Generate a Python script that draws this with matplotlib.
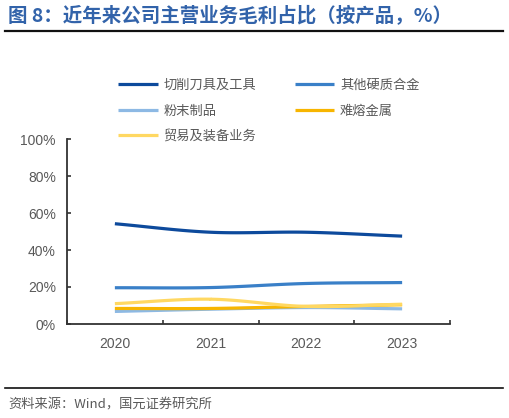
import numpy as np
import matplotlib
matplotlib.use("Agg")
from matplotlib import pyplot as plt
from matplotlib.ticker import PercentFormatter

plt.rcParams["font.family"] = ["Noto Sans CJK SC", "DejaVu Sans"]

years = ["2020", "2021", "2022", "2023"]
cutting_tools = [54.2, 49.6, 49.6, 47.5]
other_alloy = [19.6, 19.7, 21.9, 22.4]
powder = [6.8, 8.0, 8.9, 8.2]
refractory = [8.4, 8.4, 9.5, 10.4]
trade = [11.0, 13.4, 9.5, 10.7]

series = [
    ("切削刀具及工具", cutting_tools, "#0D4A9C"),
    ("其他硬质合金", other_alloy, "#3A80C8"),
    ("粉末制品", powder, "#8DB9E4"),
    ("难熔金属", refractory, "#F7B500"),
    ("贸易及装备业务", trade, "#FFD862"),
]

TEXT = "#595959"
AXIS = "#333333"


def smooth(xs, ys, n=40):
    """Catmull-Rom curve through the points, like Excel's smoothed line."""
    xs = np.asarray(xs, float)
    ys = np.asarray(ys, float)
    px = np.concatenate([[2 * xs[0] - xs[1]], xs, [2 * xs[-1] - xs[-2]]])
    py = np.concatenate([[2 * ys[0] - ys[1]], ys, [2 * ys[-1] - ys[-2]]])
    out_x, out_y = [], []
    t = np.linspace(0, 1, n)
    for i in range(1, len(px) - 2):
        for p, out in ((px, out_x), (py, out_y)):
            p0, p1, p2, p3 = p[i - 1], p[i], p[i + 1], p[i + 2]
            out.append(0.5 * (2 * p1 + (-p0 + p2) * t
                              + (2 * p0 - 5 * p1 + 4 * p2 - p3) * t ** 2
                              + (-p0 + 3 * p1 - 3 * p2 + p3) * t ** 3))
    return np.concatenate(out_x), np.concatenate(out_y)


fig = plt.figure(figsize=(5.09, 4.18), dpi=100)
ax = fig.add_axes((67 / 509, 1 - 324 / 418, 383 / 509, 185 / 418))

x = np.arange(len(years))
handles = []
for label, vals, color in series:
    sx, sy = smooth(x, vals)
    h, = ax.plot(sx, sy, color=color, lw=2.3, label=label,
                 solid_capstyle="butt")
    handles.append(h)

ax.set_xlim(-0.5, len(years) - 0.5)
ax.set_ylim(0, 100)
ax.set_yticks(np.arange(0, 101, 20))
ax.yaxis.set_major_formatter(PercentFormatter(decimals=0))
ax.set_xticks(x)
ax.set_xticklabels(years)
ax.set_xticks(np.arange(-0.5, len(years)), minor=True)

for side in ("top", "right"):
    ax.spines[side].set_visible(False)
for side in ("left", "bottom"):
    ax.spines[side].set_color(AXIS)
    ax.spines[side].set_linewidth(1.3)

ax.tick_params(axis="y", direction="in", length=3, width=1.2, color=AXIS,
               labelcolor=TEXT, labelsize=10, pad=8)
ax.tick_params(axis="x", which="major", length=0, labelcolor=TEXT,
               labelsize=10, pad=9)
ax.tick_params(axis="x", which="minor", direction="in", length=3, width=1.2,
               color=AXIS)
for lab in ax.get_xticklabels() + ax.get_yticklabels():
    lab.set_family(["Liberation Sans", "DejaVu Sans"])

# legend is filled row by row in the reference; matplotlib fills by column
order = [0, 2, 4, 1, 3]
leg = fig.legend([handles[i] for i in order], [series[i][0] for i in order],
                 loc="upper left", bbox_to_anchor=(118 / 509, 1 - 79 / 418),
                 ncol=2, frameon=False, fontsize=9.5, handlelength=3.0,
                 handletextpad=0.45, columnspacing=2.9, labelspacing=0.95,
                 borderpad=0, borderaxespad=0)
for text in leg.get_texts():
    text.set_color(TEXT)

fig.text(8 / 509, 1 - 16 / 418, "图 8：近年来公司主营业务毛利占比（按产品，%）",
         ha="left", va="center", fontsize=14, fontweight="bold",
         color="#3263AA")
fig.add_artist(plt.Line2D([5 / 509, 503 / 509], [1 - 31 / 418, 1 - 31 / 418],
                          color="#111111", lw=1.6))
fig.add_artist(plt.Line2D([5 / 509, 503 / 509], [1 - 388 / 418, 1 - 388 / 418],
                          color="#111111", lw=1.2))
fig.text(8 / 509, 1 - 405 / 418, "资料来源：Wind，国元证券研究所",
         ha="left", va="center", fontsize=9.5, color=TEXT)

fig.savefig("out.png", dpi=100)
